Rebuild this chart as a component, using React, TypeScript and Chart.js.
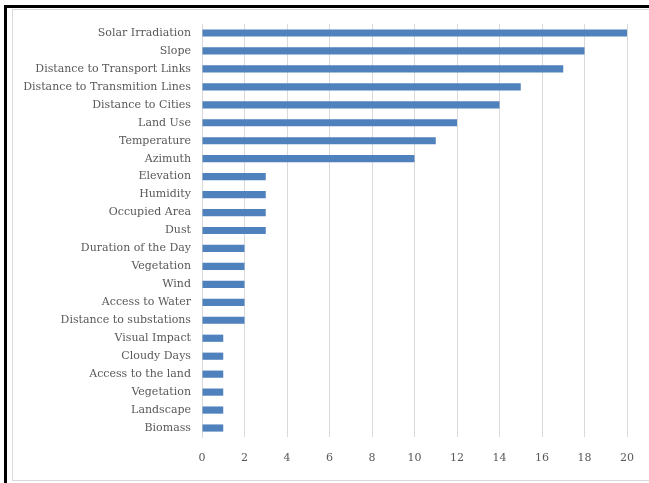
import React, { useEffect, useRef } from "react";
import { Chart, registerables } from "chart.js";

Chart.register(...registerables);

const categories = [
  "Solar Irradiation",
  "Slope",
  "Distance to Transport Links",
  "Distance to Transmition Lines",
  "Distance to Cities",
  "Land Use",
  "Temperature",
  "Azimuth",
  "Elevation",
  "Humidity",
  "Occupied Area",
  "Dust",
  "Duration of the Day",
  "Vegetation",
  "Wind",
  "Access to Water",
  "Distance to substations",
  "Visual Impact",
  "Cloudy Days",
  "Access to the land",
  "Vegetation",
  "Landscape",
  "Biomass",
];

const values = [20, 18, 17, 15, 14, 12, 11, 10, 3, 3, 3, 3, 2, 2, 2, 2, 2, 1, 1, 1, 1, 1, 1];

const xTicks = [0, 2, 4, 6, 8, 10, 12, 14, 16, 18, 20];

export default function App() {
  const ref = useRef<HTMLCanvasElement | null>(null);

  useEffect(() => {
    document.body.style.margin = "0";
    const ctx = ref.current!.getContext("2d")!;
    const font = { family: "'DejaVu Serif', serif", size: 11 };
    const chart = new Chart(ctx, {
      type: "bar",
      data: {
        labels: categories,
        datasets: [
          {
            data: values,
            backgroundColor: "#4f81bd",
            borderWidth: 0,
            barPercentage: 0.4,
            categoryPercentage: 1,
          },
        ],
      },
      options: {
        indexAxis: "y",
        animation: false,
        responsive: false,
        layout: { padding: { top: 24, right: 20, left: 0, bottom: 0 } },
        plugins: { legend: { display: false }, tooltip: { enabled: false } },
        scales: {
          x: {
            min: 0,
            max: 20,
            afterBuildTicks: (scale: any) => {
              scale.ticks = xTicks.map((v) => ({ value: v }));
            },
            afterFit: (scale: any) => {
              scale.height = 46;
            },
            grid: { color: "#d9d9d9", drawTicks: false, lineWidth: 1 },
            border: { display: false },
            ticks: { color: "#595959", font, padding: 15 },
          },
          y: {
            afterFit: (scale: any) => {
              scale.width = 202;
            },
            grid: { display: false, drawTicks: false },
            border: { display: true, color: "#d9d9d9" },
            ticks: { color: "#595959", font, padding: 11, autoSkip: false },
          },
        },
      },
    });
    return () => chart.destroy();
  }, []);

  return (
    <div style={{ position: "relative", width: 649, height: 483, overflow: "hidden", background: "#fff" }}>
      <div
        style={{
          position: "absolute",
          left: 4,
          top: 5,
          width: 700,
          height: 600,
          borderLeft: "3px solid #000",
          borderTop: "3px solid #000",
        }}
      />
      <div
        style={{
          position: "absolute",
          left: 12,
          top: 9,
          width: 700,
          height: 470,
          borderLeft: "1px solid #d9d9d9",
          borderTop: "1px solid #d9d9d9",
          borderBottom: "1px solid #d9d9d9",
        }}
      />
      <canvas ref={ref} width={649} height={483} style={{ position: "absolute", left: 0, top: 0 }} />
    </div>
  );
}
